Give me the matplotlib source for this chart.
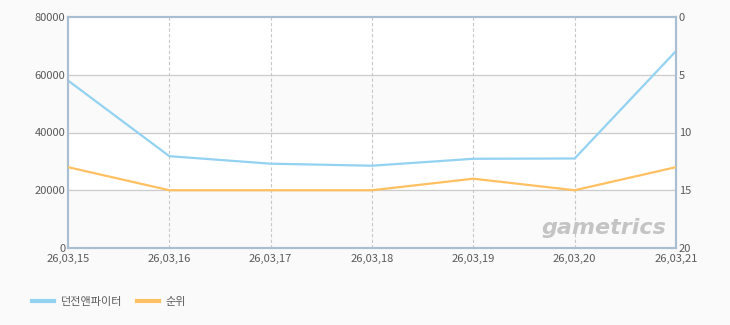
import matplotlib
matplotlib.use("Agg")
import matplotlib.pyplot as plt

plt.rcParams['font.family'] = ['Noto Sans CJK KR', 'DejaVu Sans']

dates = ["26,03,15", "26,03,16", "26,03,17", "26,03,18", "26,03,19", "26,03,20", "26,03,21"]
users = [58000, 31800, 29200, 28500, 30900, 31000, 68200]
rank = [13, 15, 15, 15, 14, 15, 13]

blue = "#94d2f2"
orange = "#ffc062"
spine = "#a9bdd3"
txt = "#5a5a5a"

fig = plt.figure(figsize=(7.3, 3.25), dpi=100, facecolor="#fafafa")
ax = fig.add_axes([68 / 730, 77 / 325, 608 / 730, 231 / 325])
ax.set_facecolor("white")
x = list(range(len(dates)))

# alternating bands
for lo in (0, 40000):
    ax.axhspan(lo, lo + 20000, color="#fafafa", zorder=0)

ax.set_xlim(0, len(dates) - 1)
ax.set_ylim(0, 80000)
ax.set_yticks([0, 20000, 40000, 60000, 80000])
ax.set_xticks(x)
ax.set_xticklabels(dates)
for v in (20000, 40000, 60000):
    ax.axhline(v, color="#cccccc", lw=0.9, zorder=1)
for xi in x[1:-1]:
    ax.axvline(xi, color="#c8c8c8", lw=0.8, ls=(0, (3, 2)), zorder=1)

ax.plot(x, users, color=blue, lw=1.6, zorder=3, label="던전앤파이터")

ax2 = ax.twinx()
ax2.set_ylim(20, 0)
ax2.set_yticks([0, 5, 10, 15, 20])
ax2.plot(x, rank, color=orange, lw=1.6, zorder=3, label="순위")

for a in (ax, ax2):
    for s in a.spines.values():
        s.set_color(spine)
        s.set_linewidth(1.5)
    a.tick_params(length=0, labelsize=8, colors=txt, pad=2)
ax.tick_params(axis="x", pad=4)

ax.text(0.985, 0.085, "gametrics", transform=ax.transAxes, ha="right", va="center",
        fontsize=16, fontweight="bold", style="italic", color="#c4c4c4",
        family="DejaVu Sans", zorder=2)

h1, l1 = ax.get_legend_handles_labels()
h2, l2 = ax2.get_legend_handles_labels()
fig.legend(h1 + h2, l1 + l2, loc="center left", bbox_to_anchor=(0.03, 23 / 325),
           ncol=2, frameon=False, fontsize=8, labelcolor=txt, handlelength=2,
           columnspacing=1.3, handletextpad=0.6)
for line in fig.legends[0].get_lines():
    line.set_linewidth(3)

fig.savefig("out.png", dpi=100, facecolor=fig.get_facecolor())
